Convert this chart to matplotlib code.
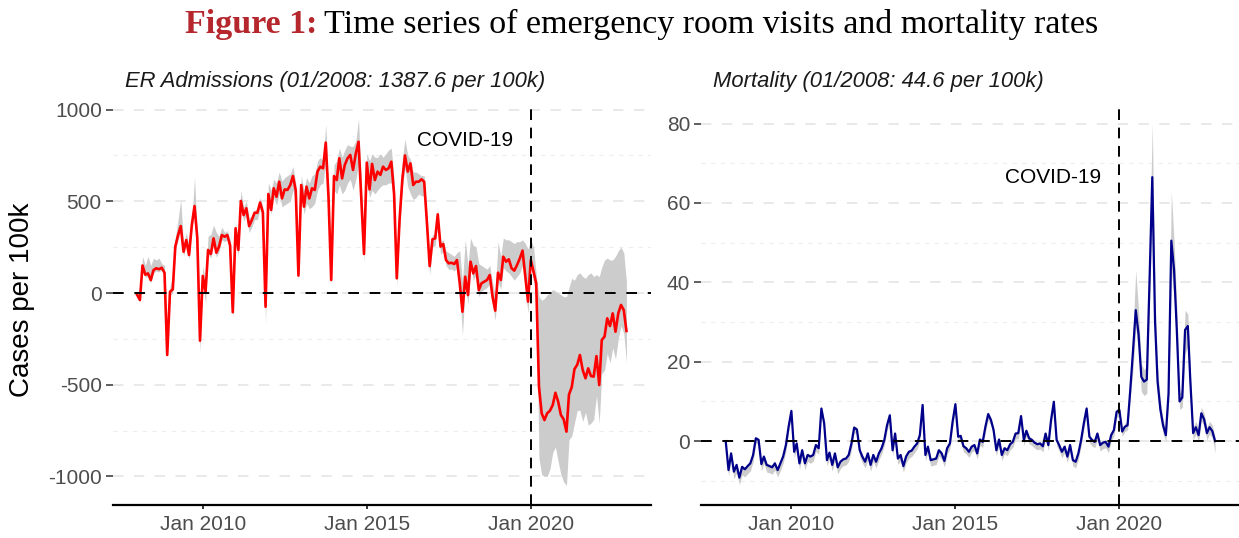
import numpy as np
import pandas as pd
import matplotlib
matplotlib.use("Agg")
import matplotlib.pyplot as plt
import matplotlib.dates as mdates

plt.rcParams["font.family"] = ["Liberation Sans", "DejaVu Sans"]
plt.rcParams["axes.unicode_minus"] = False
plt.rcParams["lines.scale_dashes"] = False

# monthly observations, Jan 2008 - Dec 2022
months = pd.date_range("2008-01-01", "2022-12-01", freq="MS")
covid_start = pd.Timestamp("2020-01-01")

# ER admissions, deviation from 01/2008 (per 100k)
er_est = [
    -10, -38, 150, 100, 107, 70, 125, 135, 130, 138, 110, -338,
    7, 20, 253, 316, 365, 225, 289, 207, 371, 474, 300, -260,
    93, 7, 235, 213, 298, 220, 253, 316, 307, 316, 260, -105,
    353, 235, 502, 425, 462, 365, 398, 438, 438, 493, 440, -75,
    540, 453, 571, 525, 607, 516, 565, 562, 589, 638, 560, 95,
    589, 471, 580, 516, 571, 562, 662, 689, 680, 820, 520, 71,
    638, 616, 735, 625, 698, 735, 753, 671, 762, 825, 520, 213,
    711, 565, 704, 616, 662, 644, 689, 671, 680, 716, 540, 80,
    400, 620, 750, 662, 707, 589, 607, 607, 620, 607, 380, 147,
    293, 298, 429, 253, 267, 180, 162, 165, 158, 180, 53, -102,
    89, -11, 171, 107, 147, 16, 53, 62, 71, 98, -20, -96,
    111, 71, 198, 171, 184, 135, 122, 153, 189, 231, 89, -47,
    180, 116, 53, -511, -656, -693, -656, -642, -611, -544, -593, -665,
    -689, -756, -554, -513, -415, -391, -338, -420, -465, -411, -453, -456,
    -344, -502, -256, -238, -138, -180, -111, -211, -111, -65, -93, -207,
]
er_lo = [
    -20, -50, 130, 85, 95, 55, 110, 120, 115, 125, 95, -350,
    -10, 0, 230, 290, 340, 200, 265, 185, 345, 450, 120, -320,
    60, -60, 210, 190, 270, 195, 225, 290, 280, 290, 230, -140,
    320, 200, 470, 390, 430, 330, 360, 400, 400, 460, 410, -170,
    510, 430, 520, 480, 540, 470, 480, 490, 500, 560, 500, 70,
    540, 430, 490, 460, 470, 490, 560, 590, 600, 720, 450, 40,
    560, 540, 590, 540, 560, 600, 620, 560, 620, 700, 450, 170,
    600, 520, 560, 540, 560, 580, 590, 590, 600, 600, 480, 40,
    350, 580, 680, 580, 540, 510, 520, 540, 530, 530, 320, 100,
    250, 260, 380, 210, 230, 150, 130, 130, 120, 140, 10, -230,
    40, -60, 140, 70, 100, -20, 10, 20, 30, 50, -60, -150,
    60, 20, 140, 120, 110, 90, 70, 90, 110, 150, 20, -110,
    140, 60, -10, -900, -990, -1000, -1000, -960, -870, -840, -920, -990,
    -1030, -1050, -800, -780, -710, -640, -640, -700, -650, -720, -710, -690,
    -560, -710, -440, -420, -330, -380, -300, -360, -250, -180, -220, -380,
]
er_hi = [
    10, -5, 200, 150, 200, 150, 190, 180, 190, 160, 150, -320,
    40, 90, 300, 400, 510, 260, 330, 260, 400, 630, 330, -230,
    150, 60, 310, 320, 370, 330, 310, 360, 330, 340, 290, -80,
    380, 300, 560, 470, 500, 410, 420, 450, 460, 520, 470, -50,
    600, 560, 620, 600, 660, 610, 630, 640, 650, 690, 600, 120,
    640, 560, 630, 600, 640, 650, 720, 740, 720, 920, 580, 100,
    700, 720, 790, 740, 780, 810, 800, 800, 830, 950, 600, 240,
    760, 720, 760, 740, 740, 760, 740, 760, 780, 790, 620, 110,
    480, 730, 840, 750, 730, 660, 660, 650, 640, 640, 420, 180,
    320, 320, 450, 280, 290, 230, 220, 210, 200, 220, 230, 60,
    290, 150, 300, 260, 250, 160, 150, 140, 130, 150, 60, -20,
    280, 200, 300, 290, 290, 280, 270, 280, 280, 290, 270, 240,
    290, 250, 100, -20, -40, -30, -10, 0, 20, 10, 0, -10,
    -20, -20, 30, 80, 70, 100, 110, 90, 80, 100, 110, 90,
    100, 90, 140, 180, 190, 180, 180, 200, 230, 250, 220, 60,
]

# mortality, deviation from 01/2008 (per 100k)
mort_est = [
    0, -7.3, -3.1, -7.7, -6, -9.2, -6.5, -7.1, -6.3, -5.6, -3.5, 0.7,
    0.3, -5.8, -3.9, -6, -6.3, -6.6, -5.6, -7.3, -5.6, -3.9, -1, 3.6,
    7.6, -2.7, -0.6, -5.6, -2.3, -5.6, -3.5, -3.9, -3.5, -1, -1.8, 8.2,
    4.5, -4.8, -2.9, -6, -3.1, -6.6, -5.2, -4.6, -4.4, -3.5, -0.6, 3.4,
    2.9, -2.3, -3.9, -5.2, -3.1, -6, -3.5, -5.2, -3.1, -1.8, 0.3, 4,
    6.5, -2.3, 1.9, -4.4, -3.5, -6.3, -3.9, -2.7, -2.4, -1.4, -0.6, 1.5,
    9.1, -3.5, -1.4, -4.8, -4.6, -4.4, -2.3, -3.1, -5, -1.8, -0.6, 4.9,
    9.3, 1.1, 1.3, -1.3, -1.8, -2.7, -1.4, -1, -3.1, 0.4, -0.2, 3.6,
    6.8, 5.3, 2.8, -2.3, 0.4, -3.5, -1.8, -2.3, -0.8, -0.2, 1.9, 2.0,
    6.3, 0.3, 2.6, 0.7, 0.3, -0.4, -0.8, -0.6, -1.3, 1.9, -1, 5.3,
    9.9, 0.3, -1, -2.7, -1.4, -3.9, -1, -4.8, -5.2, -3.1, 0.3, 4.5,
    8.2, 1.1, 0.3, -0.2, 1.9, -1, -0.4, -0.2, -1.4, 1.5, 2.8, 7.4,
    7.8, 2.4, 3.6, 4.0, 12.9, 22.9, 33, 27, 16.2, 15, 15.5, 40,
    66.5, 30, 15, 8, 4, 1.5, 12, 50.5, 43, 28, 10, 11,
    28, 29, 15, 2, 3.5, 1.5, 7, 5.5, 2, 3.5, 2.5, 0,
]
mort_lo = [
    -0.8, -8.8, -4.8, -9.5, -8, -11, -8.5, -9, -8.2, -7.5, -5.2, -0.5,
    -0.8, -7.5, -5.6, -7.8, -8, -8.3, -7.3, -9, -7.4, -5.6, -2.6, 2.2,
    6.2, -4.2, -2, -7.2, -3.8, -7.2, -5.1, -5.6, -5.1, -2.6, -3.4, 6.8,
    3.2, -6.3, -4.5, -7.6, -4.7, -8.3, -6.9, -6.2, -6, -5.1, -2.2, 2.1,
    1.6, -3.9, -5.5, -6.8, -4.7, -7.6, -5.1, -6.8, -4.7, -3.3, -1.1, 2.6,
    5.1, -3.8, 0.4, -5.9, -5, -7.8, -5.5, -4.3, -3.9, -2.9, -2, 0.1,
    7.6, -4.9, -2.9, -6.3, -6.1, -5.9, -3.8, -4.6, -6.5, -3.3, -2, 3.4,
    7.8, -0.2, 0, -2.7, -3.2, -4.1, -2.8, -2.4, -4.5, -1, -1.6, 2.2,
    5.3, 3.9, 1.4, -3.7, -1, -4.9, -3.2, -3.7, -2.2, -1.6, 0.5, 0.6,
    4.9, -1.1, 1.2, -0.7, -1.1, -1.8, -2.2, -2, -2.7, 0.5, -2.4, 3.8,
    8.3, -1.2, -2.5, -4.2, -2.9, -5.4, -2.5, -6.3, -6.7, -4.6, -1.2, 3,
    6.6, -0.4, -1.2, -1.7, 0.4, -2.5, -1.9, -1.7, -2.9, 0, 1.3, 5.9,
    6.2, 1.2, 2.4, 2.8, 11, 18, 28.5, 23, 12.5, 11.5, 12, 34,
    59, 25, 11.5, 5.5, 2, -0.2, 9, 43, 36, 22, 8, 8.5,
    22, 24, 12, 0.2, 1.8, -0.2, 5.2, 3.8, 0.3, 1.8, 0.8, -3,
]
mort_hi = [
    0.3, -6.8, -2.6, -7.2, -5.5, -8.7, -6, -6.6, -5.8, -5.1, -3, 1.2,
    0.8, -5.3, -3.4, -5.5, -5.8, -6.1, -5.1, -6.8, -5.1, -3.4, -0.5, 4.1,
    8.3, -2.2, -0.1, -5.1, -1.8, -5.1, -3, -3.4, -3, -0.5, -1.3, 8.8,
    5.1, -4.3, -2.4, -5.5, -2.6, -6.1, -4.7, -4.1, -3.9, -3, -0.1, 3.9,
    3.4, -1.8, -3.4, -4.7, -2.6, -5.5, -3, -4.7, -2.6, -1.3, 0.8, 4.6,
    7.1, -1.8, 2.4, -3.9, -3, -5.8, -3.4, -2.2, -1.9, -0.9, -0.1, 2,
    9.8, -3, -0.9, -4.3, -4.1, -3.9, -1.8, -2.6, -4.5, -1.3, -0.1, 5.5,
    10, 1.6, 1.8, -0.8, -1.3, -2.2, -0.9, -0.5, -2.6, 0.9, 0.3, 4.2,
    7.5, 5.9, 3.3, -1.8, 0.9, -3, -1.3, -1.8, -0.3, 0.3, 2.4, 2.5,
    7, 0.8, 3.1, 1.2, 0.8, 0.1, -0.3, -0.1, -0.8, 2.4, -0.5, 6,
    10.8, 0.8, -0.5, -2.2, -0.9, -3.4, -0.5, -4.3, -4.7, -2.6, 0.8, 5.2,
    9.2, 1.6, 0.8, 0.3, 2.4, -0.5, 0.1, 0.3, -0.9, 2, 3.3, 8.2,
    8.6, 3, 4.5, 5, 15, 28, 43, 33, 19.5, 18, 19, 48,
    80, 36, 18.5, 10.5, 5.5, 3, 15, 63, 50, 34, 12, 13.5,
    33, 32, 17, 3.5, 5, 3, 8.5, 7, 3.5, 5, 4, 1,
]

panel_titles = ["ER Admissions (01/2008: 1387.6 per 100k)",
                "Mortality (01/2008: 44.6 per 100k)"]
year_ticks = pd.to_datetime(["2010-01-01", "2015-01-01", "2020-01-01"])

W, H = 1239, 538
fig = plt.figure(figsize=(W / 100, H / 100), dpi=100)
ax_er = fig.add_axes([112.6 / W, 33 / H, 538.2 / W, 401.6 / H])
ax_mo = fig.add_axes([701.2 / W, 33 / H, 538.2 / W, 399.3 / H])

xlim = (pd.Timestamp("2007-04-03"), pd.Timestamp("2023-08-29"))


def style_panel(ax, major, minor, ylim):
    ax.set_xlim(*xlim)
    ax.set_ylim(*ylim)
    for v in major:
        ax.axhline(v, color="#E3E3E3", lw=1.1, dashes=(7.5, 7.5), zorder=0)
    for v in minor:
        ax.axhline(v, color="#EDEDED", lw=0.8, dashes=(3, 4), zorder=0)
    ax.set_yticks(major)
    ax.set_yticklabels([str(v) for v in major])
    ax.set_xticks(year_ticks)
    ax.xaxis.set_major_formatter(mdates.DateFormatter("%b %Y"))
    for s in ["top", "right", "left"]:
        ax.spines[s].set_visible(False)
    ax.spines["bottom"].set_linewidth(1.6)
    ax.spines["bottom"].set_color("black")
    ax.tick_params(axis="y", length=4.8, width=1.1, color="#333333",
                   labelcolor="#4D4D4D", labelsize=15, pad=3)
    ax.tick_params(axis="x", length=3, width=1.1, color="black",
                   labelcolor="#4D4D4D", labelsize=15, pad=4)
    ax.axhline(0, color="black", lw=1.4, dashes=(7.7, 7.7), zorder=3)
    ax.axvline(covid_start, color="black", lw=1.4, dashes=(7.7, 5.5), zorder=3)


# left panel: ER admissions
style_panel(ax_er, [-1000, -500, 0, 500, 1000], [-750, -250, 250, 750],
            (-1156, 1034))
ax_er.fill_between(months, er_lo, er_hi, color="#CCCCCC", lw=0, zorder=1)
ax_er.plot(months, er_est, color="#FF0000", lw=1.9, zorder=2)
ax_er.annotate("COVID-19", xy=(covid_start, 829), xytext=(-13, 0),
               textcoords="offset points", ha="right", va="center",
               fontsize=15, color="black")

# right panel: mortality
style_panel(ax_mo, [0, 20, 40, 60, 80], [-10, 10, 30, 50, 70],
            (-16.1, 84.5))
ax_mo.fill_between(months, mort_lo, mort_hi, color="#CCCCCC", lw=0, zorder=1)
ax_mo.plot(months, mort_est, color="#00008B", lw=1.6, zorder=2)
ax_mo.annotate("COVID-19", xy=(covid_start, 66.3), xytext=(-13, 0),
               textcoords="offset points", ha="right", va="center",
               fontsize=15, color="black")

# panel titles and shared y label
fig.text((112.6 + 12) / W, 1 - 87 / H, panel_titles[0], fontsize=15.8,
         style="italic", color="#1A1A1A", va="baseline")
fig.text((701.2 + 12) / W, 1 - 87 / H, panel_titles[1], fontsize=15.8,
         style="italic", color="#1A1A1A", va="baseline")
fig.text(22 / W, 1 - 300 / H, "Cases per 100k", rotation=90, fontsize=20,
         ha="center", va="center", color="black")

# figure title in two pieces: coloured label + plain caption
fig.canvas.draw()
renderer = fig.canvas.get_renderer()
title_y = 1 - 33 / H
t1 = fig.text(185 / W, title_y, "Figure 1:", fontsize=24.5, fontweight="bold",
              family="Liberation Serif", color="#B5272D", va="baseline")
w1 = t1.get_window_extent(renderer).width
fig.text((185 + w1 + 7) / W, title_y,
         "Time series of emergency room visits and mortality rates",
         fontsize=24.5, family="Liberation Serif", color="black", va="baseline")

fig.savefig("out.png", dpi=100)
